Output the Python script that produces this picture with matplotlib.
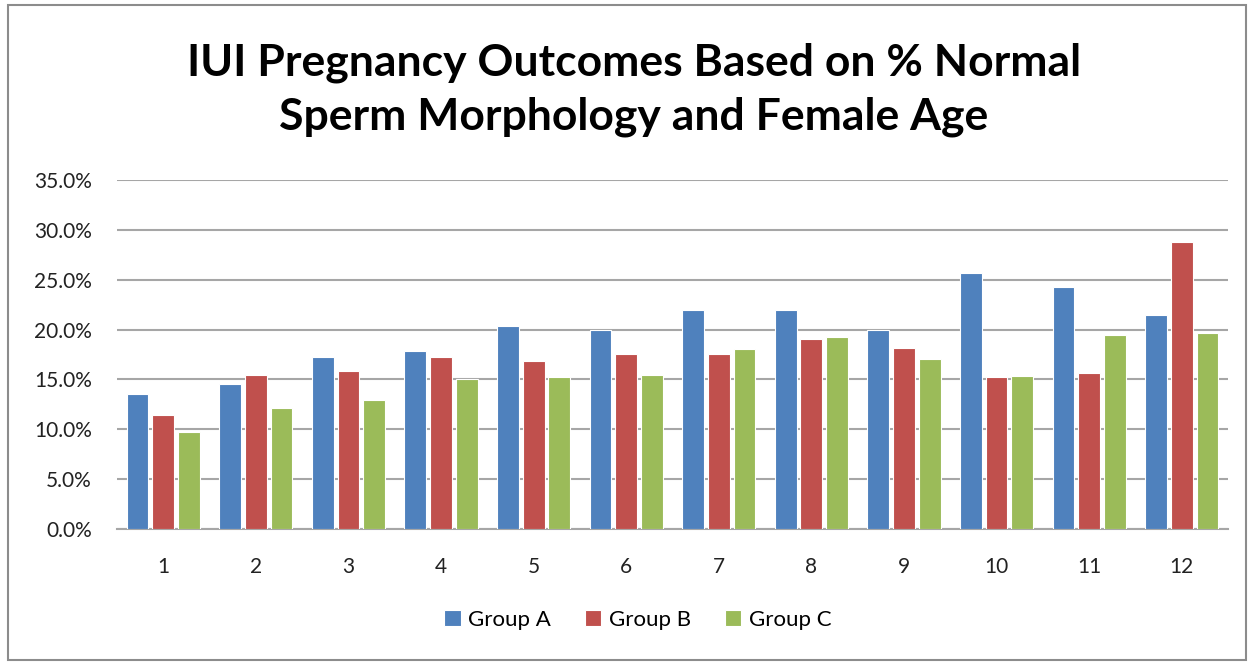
import numpy as np
import matplotlib.pyplot as plt
from matplotlib.patches import Rectangle
from matplotlib.ticker import PercentFormatter

# data
categories = ['1', '2', '3', '4', '5', '6', '7', '8', '9', '10', '11', '12']
group_a = [13.5, 14.5, 17.2, 17.9, 20.4, 20.0, 22.0, 22.0, 20.0, 25.7, 24.3, 21.5]
group_b = [11.4, 15.4, 15.8, 17.2, 16.8, 17.6, 17.6, 19.1, 18.2, 15.2, 15.6, 28.8]
group_c = [9.7, 12.1, 12.9, 15.0, 15.2, 15.4, 18.1, 19.3, 17.0, 15.3, 19.5, 19.7]
series_names = ['Group A', 'Group B', 'Group C']

plt.rcParams['font.family'] = ['Lato', 'DejaVu Sans']

fig = plt.figure(figsize=(12.53, 6.64), dpi=100)
W, H = 1253, 664

# outer chart border
fig.patches.append(Rectangle((8 / W, 4 / H), 1238 / W, 655 / H, transform=fig.transFigure,
                             fill=False, edgecolor='#8c8c8c', linewidth=1.5))

ax = fig.add_axes([117 / W, (H - 529) / H, (1228 - 117) / W, (529 - 180) / H])

x = np.arange(len(categories))
step = 0.278
bw = 0.235
colors = ['#4F81BD', '#C0504D', '#9BBB59']
for i, (vals, name) in enumerate(zip([group_a, group_b, group_c], series_names)):
    ax.bar(x + (i - 1) * step, vals, width=bw, color=colors[i], label=name,
           edgecolor='white', linewidth=0.8, zorder=3)

ax.set_xlim(-0.5, len(categories) - 0.5)
ax.set_ylim(0, 35)
ax.set_yticks(np.arange(0, 36, 5))
ax.yaxis.set_major_formatter(PercentFormatter(decimals=1))
ax.set_xticks(x)
ax.set_xticklabels(categories)
ax.grid(axis='y', color='#a6a6a6', linewidth=1.5, zorder=0)
for s in ['top', 'right', 'left']:
    ax.spines[s].set_visible(False)
ax.spines['bottom'].set_color('#a6a6a6')
ax.spines['bottom'].set_linewidth(1.5)
ax.tick_params(axis='x', length=0, pad=20, labelsize=15, colors='#222222')
ax.tick_params(axis='y', length=0, pad=18, labelsize=15, colors='#222222')

fig.text(0.506, (H - 90) / H, 'IUI Pregnancy Outcomes Based on % Normal\nSperm Morphology and Female Age',
         ha='center', va='center', fontsize=32, fontweight='bold', linespacing=1.42)

fig.legend(loc='center', bbox_to_anchor=(0.509, (H - 620) / H), ncol=3, frameon=False,
           fontsize=16, handlelength=0.75, handleheight=0.75, handletextpad=0.35, columnspacing=1.5)

fig.savefig('out.png', dpi=100)
